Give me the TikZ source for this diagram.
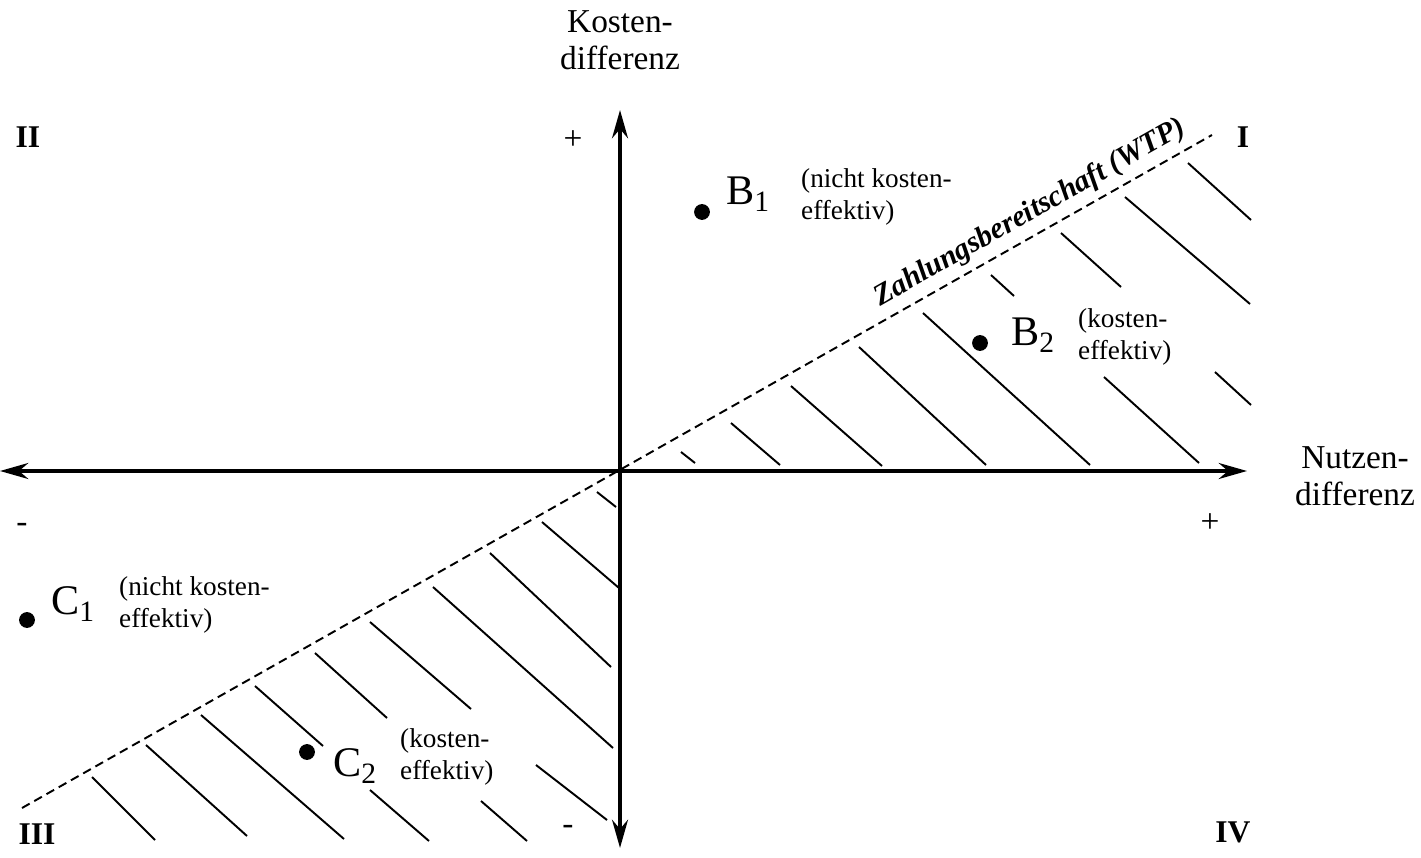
\documentclass[tikz,border=0pt]{standalone}
\usepackage{fontspec}
\setmainfont{Liberation Serif}
\usetikzlibrary{arrows.meta}
\begin{document}
\begin{tikzpicture}[x=0.02cm,y=-0.02cm,
  axis/.style={line width=2.4pt,{Stealth[length=16pt,width=9pt]}-{Stealth[length=16pt,width=9pt]}},
  hatch/.style={line width=1.1pt},
  big/.style={font=\fontsize{19}{22}\selectfont,align=center},
  lab/.style={font=\fontsize{15.5}{18}\selectfont,align=left,anchor=west},
  pt/.style={circle,fill=black,inner sep=0pt,minimum size=9pt},
  ptlab/.style={font=\fontsize{24}{26}\selectfont,anchor=west},
  quad/.style={font=\bfseries\fontsize{18}{20}\selectfont}]
\useasboundingbox (0,0) rectangle (1421,858);
\coordinate (xl) at (0,471); \coordinate (xr) at (1247,471);
\coordinate (yt) at (620,110); \coordinate (yb) at (620,848);
\coordinate (w1) at (22,808); \coordinate (w2) at (1212,135);
\draw[axis] (xl) -- (xr);
\draw[axis] (yt) -- (yb);
\draw[line width=1.1pt,dash pattern=on 5pt off 3pt] (w1) -- (w2);
\foreach \a/\b/\c/\d in {681/452/695/463,731/423/780/465,791/386/882/466,859/347/986/465,
 923/313/1090/465,991/275/1014/296,1061/233/1121/287,1104/377/1199/463,1125/197/1250/304,
 1215/372/1251/405,1188/163/1251/220,
 597/492/616/507,542/522/619/588,490/553/611/667,433/587/613/748,370/622/471/709,
 536/765/607/820,315/653/387/718,370/790/429/841,481/801/527/841,255/686/323/746,
 201/715/344/839,146/745/247/836,92/777/155/840}
 \draw[hatch] (\a,\b) -- (\c,\d);
\node[big] (ky) at (620,40) {Kosten-\\[-1pt]differenz};
\node[big] (kx) at (1355,476) {Nutzen-\\[-1pt]differenz};
\node[quad] (q2) at (28,137) {II};
\node[quad] (q1) at (1243,137) {I};
\node[quad] (q3) at (37,834) {III};
\node[quad] (q4) at (1233,832) {IV};
\node[big] (p1) at (573,140) {+};
\node[big] (p2) at (1210,523) {+};
\node[big] (m1) at (22,528) {-};
\node[big] (m2) at (568,830) {-};
\node[pt] (b1) at (702,212) {};
\node[ptlab] (b1l) at (720,194) {B\textsubscript{1}};
\node[lab] (b1t) at (795,197) {(nicht kosten-\\effektiv)};
\node[pt] (b2) at (980,343) {};
\node[ptlab] (b2l) at (1005,335) {B\textsubscript{2}};
\node[lab] (b2t) at (1072,337) {(kosten-\\effektiv)};
\node[pt] (c1) at (27,620) {};
\node[ptlab] (c1l) at (45,604) {C\textsubscript{1}};
\node[lab] (c1t) at (113,605) {(nicht kosten-\\effektiv)};
\node[pt] (c2) at (307,752) {};
\node[ptlab] (c2l) at (327,766) {C\textsubscript{2}};
\node[lab] (c2t) at (394,757) {(kosten-\\effektiv)};
\node[font=\bfseries\itshape\fontsize{17}{19}\selectfont,rotate=29.5] (wtp) at (1030,213) {Zahlungsbereitschaft (WTP)};
\end{tikzpicture}
\end{document}
